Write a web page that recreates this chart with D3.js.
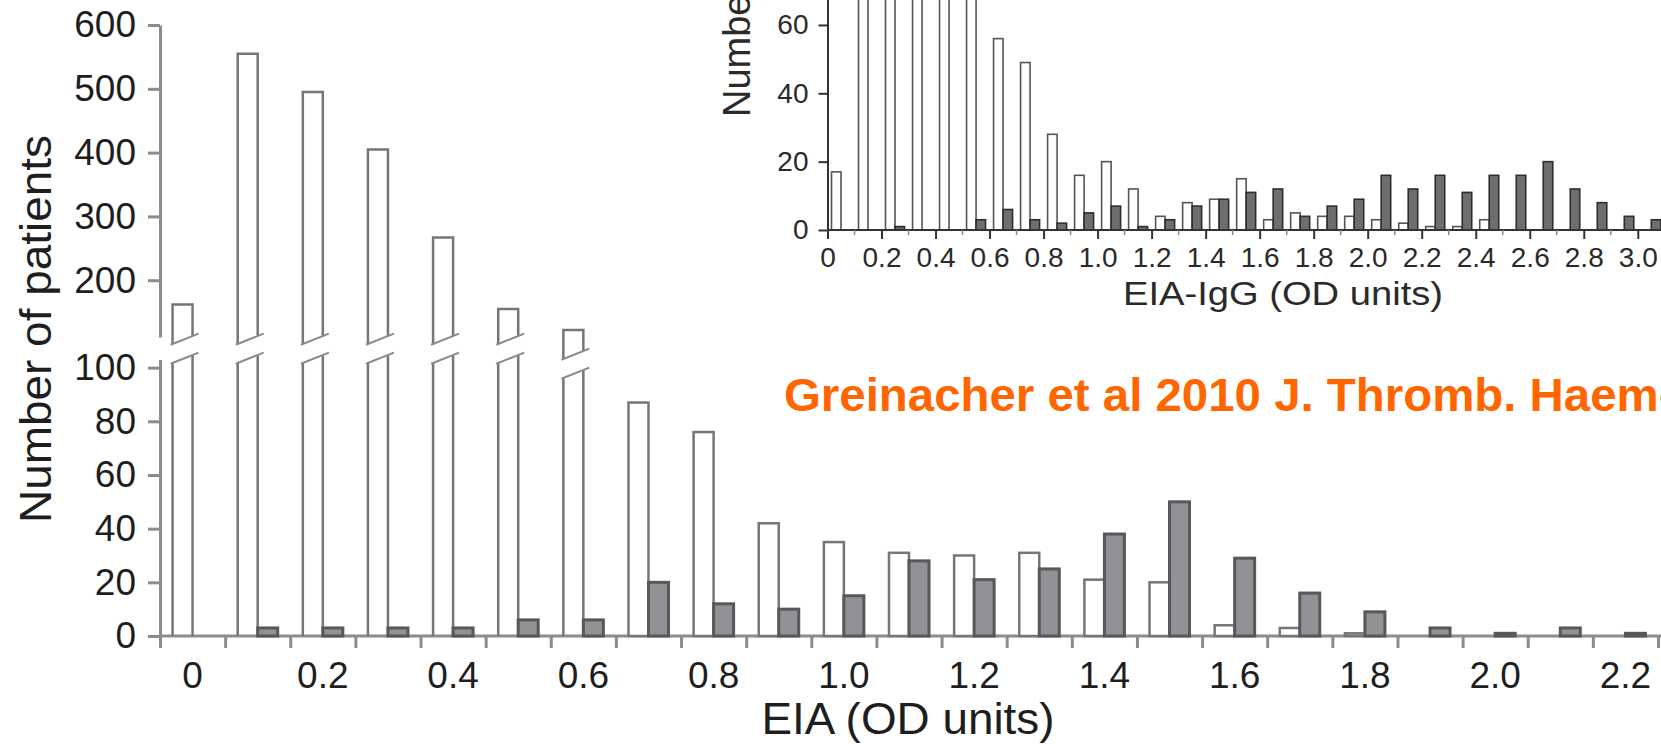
<!DOCTYPE html>
<html>
<head>
<meta charset="utf-8">
<script src="https://cdn.jsdelivr.net/npm/d3@7"></script>
<style>
  html, body { margin: 0; padding: 0; background: #fff; overflow: hidden; }
  svg { display: block; font-family: "Liberation Sans", Arial, sans-serif; }
</style>
</head>
<body>
<div id="chart"></div>
<script>
// ---- main histogram data (EIA, bins of 0.1 OD)
const mainBins  = [0, 0.1, 0.2, 0.3, 0.4, 0.5, 0.6, 0.7, 0.8, 0.9, 1.0, 1.1, 1.2, 1.3, 1.4, 1.5, 1.6, 1.7, 1.8, 1.9, 2.0, 2.1, 2.2]
const mainWhite = [162, 555, 495, 405, 267, 155, 122, 87, 76, 42, 35, 31, 30, 31, 21, 20, 4, 3, 1, 0, 0, 0, 0]
const mainGray  = [0, 3, 3, 3, 3, 6, 6, 20, 12, 10, 15, 28, 21, 25, 38, 50, 29, 16, 9, 3, 1, 3, 1]
const mainXTickLabels = ["0", "0.2", "0.4", "0.6", "0.8", "1.0", "1.2", "1.4", "1.6", "1.8", "2.0", "2.2"]
const mainYUpperTicks = [200, 300, 400, 500, 600]
const mainYLowerTicks = [0, 20, 40, 60, 80, 100]

// ---- inset data (EIA-IgG, bins of 0.1 OD)
const insetBins  = [0, 0.1, 0.2, 0.3, 0.4, 0.5, 0.6, 0.7, 0.8, 0.9, 1.0, 1.1, 1.2, 1.3, 1.4, 1.5, 1.6, 1.7, 1.8, 1.9, 2.0, 2.1, 2.2, 2.3, 2.4, 2.5, 2.6, 2.7, 2.8, 2.9, 3.0]
const insetWhite = [17, 95, 110, 105, 90, 75, 56, 49, 28, 16, 20, 12, 4, 8, 9, 15, 3, 5, 4, 4, 3, 2, 1, 1, 3, 0, 0, 0, 0, 0, 0]
const insetGray  = [0, 0, 1, 0, 0, 3, 6, 3, 2, 5, 7, 1, 3, 7, 9, 11, 12, 4, 7, 9, 16, 12, 16, 11, 16, 16, 20, 12, 8, 4, 3]
const insetXTickLabels = ["0", "0.2", "0.4", "0.6", "0.8", "1.0", "1.2", "1.4", "1.6", "1.8", "2.0", "2.2", "2.4", "2.6", "2.8", "3.0"]
const insetYTicks = [0, 20, 40, 60]

const citation = "Greinacher et al 2010 J. Thromb. Haemost."

const width = 1661
const height = 744

const svg = d3.select("#chart").append("svg")
  .attr("width", width)
  .attr("height", height)
  .attr("viewBox", [0, 0, width, height])

const textColor = "#1e1e1e"
const axisColor = "#8c8c8c"

//////////////////// main chart
const x = d3.scaleLinear().domain([0, 2.3]).range([160, 1658])
const yLow = d3.scaleLinear().domain([0, 103]).range([636, 359.6])
const yHigh = d3.scaleLinear().domain([111, 600]).range([337, 25])
const binW = x(0.1) - x(0)
const barW = 20
const cx = b => x(b) + binW / 2

const mainRows = mainBins.map((b, i) => ({ bin: b, white: mainWhite[i], gray: mainGray[i] }))

function styleAxis(g, color, sw, fs) {
  g.selectAll("path, line").attr("stroke", color).attr("stroke-width", sw)
  g.selectAll("text").attr("fill", textColor).attr("font-size", fs)
}

// y axis in two pieces (broken)
const gyLow = svg.append("g")
  .attr("transform", `translate(${x(0)},0)`)
  .call(d3.axisLeft(yLow).tickValues(mainYLowerTicks).tickSize(12).tickPadding(12).tickSizeOuter(0))
styleAxis(gyLow, axisColor, 3, 37)

const gyHigh = svg.append("g")
  .attr("transform", `translate(${x(0)},0)`)
  .call(d3.axisLeft(yHigh).tickValues(mainYUpperTicks).tickSize(12).tickPadding(12).tickSizeOuter(0))
styleAxis(gyHigh, axisColor, 3, 37)

// x axis: ticks at bin edges, labels at bin centres
const gx = svg.append("g")
  .attr("transform", `translate(0,${yLow(0)})`)
  .call(d3.axisBottom(x).tickValues(mainBins.concat([2.3])).tickSize(12).tickFormat("").tickSizeOuter(0))
gx.select("path.domain").attr("d", `M${x(0)},0H${width}`)
styleAxis(gx, axisColor, 3, 38)

svg.append("g").selectAll("text")
  .data(mainXTickLabels)
  .join("text")
  .attr("x", d => cx(+d))
  .attr("y", 688)
  .attr("text-anchor", "middle")
  .attr("font-size", 37)
  .attr("fill", textColor)
  .text(d => d)

// bars
const bars = svg.append("g")
const whiteStroke = "#767676"

bars.selectAll("rect.white")
  .data(mainRows.filter(d => d.white > 0 && d.white <= 100))
  .join("rect")
  .attr("class", "white")
  .attr("x", d => cx(d.bin) - barW)
  .attr("y", d => yLow(d.white))
  .attr("width", barW)
  .attr("height", d => yLow(0) - yLow(d.white))
  .attr("fill", "#fff")
  .attr("stroke", whiteStroke)
  .attr("stroke-width", 2.5)

// tall bars get cut with a "//" break
const tall = mainRows.filter(d => d.white > 100).map(d => {
  const top = yHigh(d.white)
  const yb = Math.max(yHigh(111) + 3, top + 25)
  return { ...d, x0: cx(d.bin) - barW, x1: cx(d.bin), top, yb, yt: yb + 19 }
})

const tallG = bars.selectAll("g.tall").data(tall).join("g").attr("class", "tall")
tallG.append("path")
  .attr("d", d => `M${d.x0},${d.yb + 4}V${d.top}H${d.x1}V${d.yb - 4}`)
  .attr("fill", "none").attr("stroke", whiteStroke).attr("stroke-width", 2.5)
tallG.append("path")
  .attr("d", d => `M${d.x0},${yLow(0)}V${d.yt + 4}M${d.x1},${yLow(0)}V${d.yt - 4}`)
  .attr("fill", "none").attr("stroke", whiteStroke).attr("stroke-width", 2.5)
tallG.selectAll("line")
  .data(d => [[d, d.yb], [d, d.yt]])
  .join("line")
  .attr("x1", ([d]) => d.x0 - 2)
  .attr("y1", ([, y]) => y + 4.8)
  .attr("x2", ([d]) => d.x1 + 6)
  .attr("y2", ([, y]) => y - 6.4)
  .attr("stroke", "#8a8a8a")
  .attr("stroke-width", 2)

bars.selectAll("rect.gray")
  .data(mainRows.filter(d => d.gray > 0))
  .join("rect")
  .attr("class", "gray")
  .attr("x", d => cx(d.bin))
  .attr("y", d => yLow(d.gray))
  .attr("width", barW)
  .attr("height", d => yLow(0) - yLow(d.gray))
  .attr("fill", "#929296")
  .attr("stroke", "#58585a")
  .attr("stroke-width", 3)

// axis titles
svg.append("text")
  .attr("transform", `translate(51,${329}) rotate(-90)`)
  .attr("text-anchor", "middle")
  .attr("font-size", 44)
  .attr("textLength", 388)
  .attr("lengthAdjust", "spacingAndGlyphs")
  .attr("fill", textColor)
  .text("Number of patients")

svg.append("text")
  .attr("x", 908)
  .attr("y", 734)
  .attr("text-anchor", "middle")
  .attr("font-size", 45)
  .attr("textLength", 293)
  .attr("lengthAdjust", "spacingAndGlyphs")
  .attr("fill", textColor)
  .text("EIA (OD units)")

//////////////////// inset chart (top right)
const xi = d3.scaleLinear().domain([0, 3.1]).range([827.5, 1664.8])
const yi = d3.scaleLinear().domain([0, 80]).range([230, -43.4])
const ibinW = xi(0.1) - xi(0)
const ibarW = 9.5
const icx = b => xi(b) + ibinW / 2
const insetRows = insetBins.map((b, i) => ({ bin: b, white: insetWhite[i], gray: insetGray[i] }))

const inset = svg.append("g")

inset.selectAll("rect.iwhite")
  .data(insetRows.filter(d => d.white > 0))
  .join("rect")
  .attr("x", d => icx(d.bin) - ibarW)
  .attr("y", d => yi(d.white))
  .attr("width", ibarW)
  .attr("height", d => yi(0) - yi(d.white))
  .attr("fill", "#fff")
  .attr("stroke", "#555")
  .attr("stroke-width", 1.6)

inset.selectAll("rect.igray")
  .data(insetRows.filter(d => d.gray > 0))
  .join("rect")
  .attr("x", d => icx(d.bin))
  .attr("y", d => yi(d.gray))
  .attr("width", ibarW)
  .attr("height", d => yi(0) - yi(d.gray))
  .attr("fill", "#6e6e70")
  .attr("stroke", "#2e2e2e")
  .attr("stroke-width", 1.6)

const giy = inset.append("g")
  .attr("transform", `translate(${xi(0)},0)`)
  .call(d3.axisLeft(yi).tickValues(insetYTicks).tickSize(9).tickPadding(10).tickSizeOuter(0))
styleAxis(giy, "#333", 2, 28)
giy.selectAll("text").attr("fill", "#2a2a2a")

const gix = inset.append("g")
  .attr("transform", `translate(0,${yi(0)})`)
  .call(d3.axisBottom(xi).tickValues(insetXTickLabels.map(Number)).tickSize(9).tickPadding(8)
    .tickFormat((d, i) => insetXTickLabels[i]).tickSizeOuter(0))
gix.select("path.domain").attr("d", `M${xi(0)},0H${width}`)
styleAxis(gix, "#333", 2, 28)
gix.selectAll("text").attr("fill", "#2a2a2a")

// minor ticks at odd tenths
inset.append("g").selectAll("line")
  .data(insetBins.filter((b, i) => i % 2 === 1))
  .join("line")
  .attr("x1", d => xi(d)).attr("x2", d => xi(d))
  .attr("y1", yi(0)).attr("y2", yi(0) + 5)
  .attr("stroke", "#888").attr("stroke-width", 1.5)

inset.append("text")
  .attr("transform", `translate(750,117) rotate(-90)`)
  .attr("font-size", 38)
  .attr("fill", "#2a2a2a")
  .text("Number of patients")

inset.append("text")
  .attr("x", 1283)
  .attr("y", 305)
  .attr("text-anchor", "middle")
  .attr("font-size", 33)
  .attr("textLength", 320)
  .attr("lengthAdjust", "spacingAndGlyphs")
  .attr("fill", "#2a2a2a")
  .text("EIA-IgG (OD units)")

// citation
svg.append("text")
  .attr("x", 784)
  .attr("y", 411)
  .attr("font-size", 46)
  .attr("font-weight", "bold")
  .attr("textLength", 959)
  .attr("lengthAdjust", "spacingAndGlyphs")
  .attr("fill", "#ff6600")
  .text(citation)
</script>
</body>
</html>
